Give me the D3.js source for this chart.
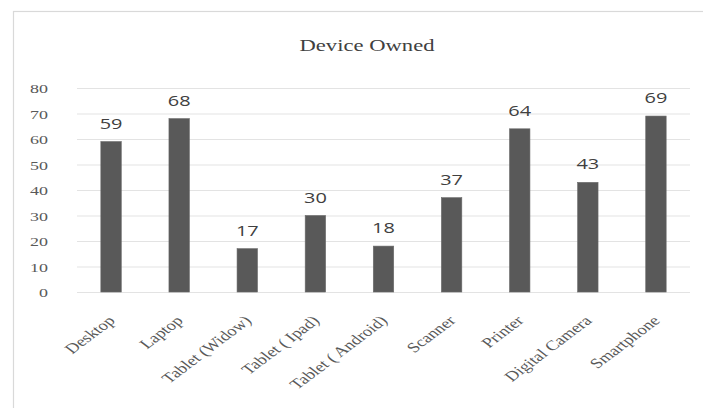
<!DOCTYPE html>
<html><head><meta charset="utf-8">
<script src="https://cdn.jsdelivr.net/npm/d3@7"></script>
<style>html,body{margin:0;padding:0;background:#fff;}svg{display:block;}</style>
</head><body>
<svg id="c" width="703" height="408"></svg>
<script>
const categories = ["Desktop","Laptop","Tablet (Widow)","Tablet ( Ipad)","Tablet ( Android)","Scanner","Printer","Digital Camera","Smartphone"];
const values = [59,68,17,30,18,37,64,43,69];
const yTicks = [0,10,20,30,40,50,60,70,80];
const title = "Device Owned";

const SX = 1.33; // horizontal stretch of text seen in reference
const svg = d3.select("#c");
svg.append("rect").attr("x",13.5).attr("y",11.5).attr("width",720).attr("height",420)
  .attr("fill","#fff").attr("stroke","#d9d9d9").attr("stroke-width",1.2);

const m = {left:77, right:690, top:88, bottom:292};
const x = d3.scaleBand().domain(categories).range([m.left,m.right]).paddingInner(0.7).paddingOuter(0.35);
const y = d3.scaleLinear().domain([0,80]).range([m.bottom,m.top]);

svg.append("text").attr("transform",`translate(367,51) scale(${SX},1)`).attr("text-anchor","middle")
  .attr("font-family","Liberation Serif").attr("font-size",17).attr("fill","#404040").text(title);

const ya = svg.append("g").attr("transform",`translate(${m.left},0)`)
  .call(d3.axisLeft(y).tickValues(yTicks).tickSize(-(m.right-m.left)).tickPadding(0));
ya.select(".domain").remove();
ya.selectAll(".tick line").attr("stroke","#e3e3e3").attr("stroke-width",1.2);
ya.selectAll(".tick text").attr("font-family","Liberation Serif").attr("font-size",13.5).attr("fill","#595959")
  .attr("x",null).attr("dy",null).attr("transform",`translate(-29,4.5) scale(${SX},1)`);

svg.append("g").selectAll("rect").data(values).join("rect")
  .attr("x",(d,i)=>x(categories[i])).attr("width",x.bandwidth())
  .attr("y",d=>y(d)).attr("height",d=>y(0)-y(d))
  .attr("fill","#595959").attr("stroke","#6a6a6a").attr("stroke-width",0.6);

svg.append("g").selectAll("text").data(values).join("text")
  .attr("transform",(d,i)=>`translate(${x(categories[i])+x.bandwidth()/2},${y(d)-13}) scale(${SX},1)`)
  .attr("text-anchor","middle").attr("font-family","Open Sans, Liberation Sans").attr("font-size",15)
  .attr("fill","#404040").text(d=>d);

const xa = svg.append("g").attr("transform",`translate(0,${m.bottom})`)
  .call(d3.axisBottom(x).tickSize(0).tickPadding(0));
xa.select(".domain").remove();
xa.selectAll(".tick text").attr("font-family","Liberation Serif").attr("font-size",14).attr("fill","#595959")
  .attr("text-anchor","end").attr("y",0).attr("dy",0)
  .attr("transform",`translate(5,29.5) scale(${SX},1) rotate(-45)`);
</script>
</body></html>
